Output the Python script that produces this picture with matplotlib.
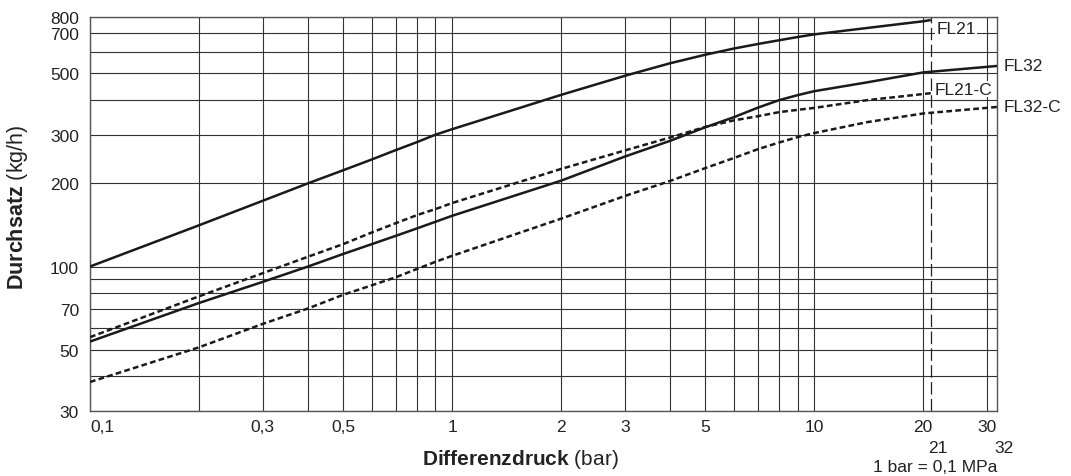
import matplotlib
matplotlib.use("Agg")
import matplotlib.pyplot as plt
from matplotlib.ticker import NullLocator

# ---------------- data ----------------
dp_21 = [0.1, 0.2, 0.3, 0.4, 0.5, 0.6, 0.7, 0.8, 0.9, 1, 2, 3, 4, 5, 6, 7, 8, 9, 10, 14, 20, 21]
dp_32 = [0.1, 0.2, 0.3, 0.4, 0.5, 0.6, 0.7, 0.8, 0.9, 1, 2, 3, 4, 5, 6, 7, 8, 9, 10, 14, 20, 32]

fl21 = [100, 141, 173, 200, 223, 244, 264, 282, 300, 314, 418, 490, 544, 584, 615, 639, 659, 677, 692, 730, 772, 780]
fl21_c = [55.5, 78, 94.6, 108.5, 120.5, 132.8, 143.6, 153.5, 161.4, 169.7, 225.5, 263, 293, 320, 338, 350, 362, 369, 375, 400, 421, 424]
fl32 = [53.5, 73.8, 88, 100, 111, 120.5, 129.2, 137.4, 145.2, 152.6, 204.5, 250, 285, 319, 347, 376, 400, 417, 431, 464, 504, 532]
fl32_c = [38.2, 51, 62, 70.5, 79, 85.5, 91.5, 98, 104, 109.3, 149, 180, 204, 227, 247, 266, 281, 294, 304, 333, 358, 378]

series_names = ["FL21", "FL32", "FL21-C", "FL32-C"]

x_ticks = [0.1, 0.2, 0.3, 0.4, 0.5, 0.6, 0.7, 0.8, 0.9, 1, 2, 3, 4, 5, 6, 7, 8, 9, 10, 20, 30]
x_ticklabels = ["0,1", "", "0,3", "", "0,5", "", "", "", "", "1", "2", "3", "", "5", "", "", "", "", "10", "20", "30"]
y_ticks = [30, 40, 50, 60, 70, 80, 90, 100, 200, 300, 400, 500, 600, 700, 800]
y_ticklabels = ["30", "", "50", "", "70", "", "", "100", "200", "300", "", "500", "", "700", "800"]
extra_x_labels = [21, 32]
dp_limit = 21

# ---------------- style ----------------
plt.rcParams["font.family"] = ["Liberation Sans", "DejaVu Sans"]
plt.rcParams["mathtext.fontset"] = "custom"
plt.rcParams["mathtext.rm"] = "Liberation Sans"
plt.rcParams["mathtext.bf"] = "Liberation Sans:bold"

fig = plt.figure(figsize=(10.71, 4.77), dpi=100)
ax = fig.add_axes([90 / 1071, 1 - 412 / 477, (997 - 90) / 1071, (412 - 18) / 477])
ax.set_xscale("log")
ax.set_yscale("log")
ax.set_xlim(0.1, 32)
ax.set_ylim(30, 800)

ax.set_xticks(x_ticks)
ax.set_xticklabels(x_ticklabels)
ax.set_yticks(y_ticks)
ax.set_yticklabels(y_ticklabels)
ax.xaxis.set_minor_locator(NullLocator())
ax.yaxis.set_minor_locator(NullLocator())
ax.tick_params(axis="both", length=0, labelsize=12.5, colors="#222222")
ax.tick_params(axis="x", pad=6)
ax.tick_params(axis="y", pad=8)
ax.get_xticklabels()[0].set_horizontalalignment("left")

ax.grid(True, which="major", color="#333333", linewidth=0.8)
ax.set_axisbelow(True)
for s in ax.spines.values():
    s.set_color("#555555")
    s.set_linewidth(1.0)

# vertical limit line at 21 bar
ax.axvline(dp_limit, color="#222222", linewidth=0.9, dashes=(10, 3.5), zorder=2)

lc = "#1a1a1a"
ax.plot(dp_21, fl21, color=lc, lw=1.8, solid_capstyle="butt", solid_joinstyle="round", zorder=3)
ax.plot(dp_32, fl32, color=lc, lw=1.8, solid_capstyle="butt", solid_joinstyle="round", zorder=3)
ax.plot(dp_21, fl21_c, color=lc, lw=1.8, dashes=(2.3, 1.3), zorder=3)
ax.plot(dp_32, fl32_c, color=lc, lw=1.8, dashes=(2.3, 1.3), zorder=3)

# curve labels
box = dict(facecolor="white", edgecolor="none", pad=0.6)
ax.annotate(series_names[0], xy=(dp_21[-1], fl21[-1]), xytext=(4, -6), textcoords="offset points",
            ha="left", va="center", fontsize=12.5, color="#222222", bbox=box, zorder=4)
ax.annotate(series_names[1], xy=(dp_32[-1], fl32[-1]), xytext=(5, 0), textcoords="offset points",
            ha="left", va="center", fontsize=12.5, color="#222222", annotation_clip=False)
ax.annotate(series_names[2], xy=(dp_21[-1], fl21_c[-1]), xytext=(3, 3), textcoords="offset points",
            ha="left", va="center", fontsize=12.5, color="#222222", bbox=box, zorder=4)
ax.annotate(series_names[3], xy=(dp_32[-1], fl32_c[-1]), xytext=(5, 0), textcoords="offset points",
            ha="left", va="center", fontsize=12.5, color="#222222", annotation_clip=False)

# extra x labels 21 and 32
for v in extra_x_labels:
    ax.annotate(str(v), xy=(v, 0), xycoords=("data", "axes fraction"), xytext=(5, -26.5),
                textcoords="offset points", ha="center", va="center", fontsize=12.5,
                color="#222222", annotation_clip=False)

fig.text(935 / 1071, 1 - 468 / 477, "1 bar = 0,1 MPa", ha="center", va="center",
         fontsize=12.5, color="#222222")

fig.text(520 / 1071, 1 - 460 / 477, r"$\mathbf{Differenzdruck}$ (bar)", ha="center", va="center",
         fontsize=15, color="#222222")
fig.text(18 / 1071, 1 - 207 / 477, r"$\mathbf{Durchsatz}$ (kg/h)", ha="center", va="center",
         rotation=90, fontsize=15.5, color="#222222")

fig.savefig("out.png", dpi=100)
